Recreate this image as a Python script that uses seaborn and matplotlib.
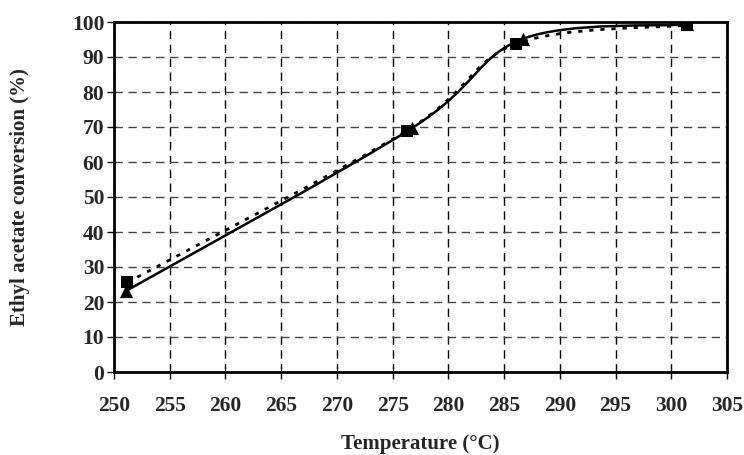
import numpy as np
import pandas as pd
import matplotlib
matplotlib.use("Agg")
import matplotlib.pyplot as plt
from matplotlib.path import Path
from matplotlib.patches import PathPatch
import seaborn as sns

# Data
temp_sq = [251.2, 276.3, 286.1, 301.4]
conv_sq = [25.6, 69.0, 93.8, 99.1]
temp_tri = [251.1, 276.7, 286.7, 301.4]
conv_tri = [23.2, 69.6, 95.2, 99.3]

x_ticks = list(range(250, 306, 5))
y_ticks = list(range(0, 101, 10))

sns.set_theme(style="white")
plt.rcParams['font.family'] = ['Liberation Serif', 'DejaVu Serif']

fig = plt.figure(figsize=(7.44, 4.55), dpi=100)
ax = fig.add_axes([114/744, 1-372/455, (727-114)/744, (372-22)/455])


def smooth_path(xs, ys):
    pts = np.column_stack([xs, ys]).astype(float)
    n = len(pts)
    verts = [pts[0]]
    codes = [Path.MOVETO]
    for i in range(n - 1):
        p0 = pts[i - 1] if i > 0 else pts[i]
        p1 = pts[i]
        p2 = pts[i + 1]
        p3 = pts[i + 2] if i + 2 < n else pts[i + 1]
        c1 = p1 + (p2 - p0) / 6.0
        c2 = p2 - (p3 - p1) / 6.0
        verts += [c1, c2, p2]
        codes += [Path.CURVE4] * 3
    return Path(verts, codes)


ax.add_patch(PathPatch(smooth_path(temp_sq, conv_sq), fill=False, lw=2.0,
                       ls=(0, (1.5, 2.5)), color='black', zorder=3))
ax.add_patch(PathPatch(smooth_path(temp_tri, conv_tri), fill=False, lw=1.8,
                       ls='-', color='black', zorder=3))

df_sq = pd.DataFrame({'T': temp_sq, 'C': conv_sq})
df_tri = pd.DataFrame({'T': temp_tri, 'C': conv_tri})
sns.scatterplot(data=df_tri, x='T', y='C', marker='^', s=90, color='black',
                edgecolor='black', linewidth=0, ax=ax, zorder=4)
sns.scatterplot(data=df_sq, x='T', y='C', marker='s', s=70, color='black',
                edgecolor='black', linewidth=0, ax=ax, zorder=5)

ax.set_xlim(250, 305)
ax.set_ylim(0, 100)
ax.set_xticks(x_ticks)
ax.set_yticks(y_ticks)
ax.set_xticklabels([str(v) for v in x_ticks], fontsize=15.5, fontweight='bold')
ax.set_yticklabels([str(v) for v in y_ticks], fontsize=15.5, fontweight='bold')
ax.tick_params(axis='both', direction='out', length=5, width=1, color='black',
               bottom=True, left=True, pad=2)
ax.tick_params(axis='x', pad=12)

ax.grid(True, which='major', axis='y', color='#444444', ls=(0, (6, 4)), lw=1.0)
ax.grid(True, which='major', axis='x', color='black', ls=(0, (6, 4)), lw=1.0)
ax.set_axisbelow(True)

for s in ax.spines.values():
    s.set_visible(True)
    s.set_color('black')
    s.set_linewidth(2.0)

ax.set_xlabel('Temperature (°C)', fontsize=15, fontweight='bold', labelpad=13)
ax.set_ylabel('Ethyl acetate conversion (%)', fontsize=15, fontweight='bold',
              labelpad=30)

fig.savefig('out.png', dpi=100)
